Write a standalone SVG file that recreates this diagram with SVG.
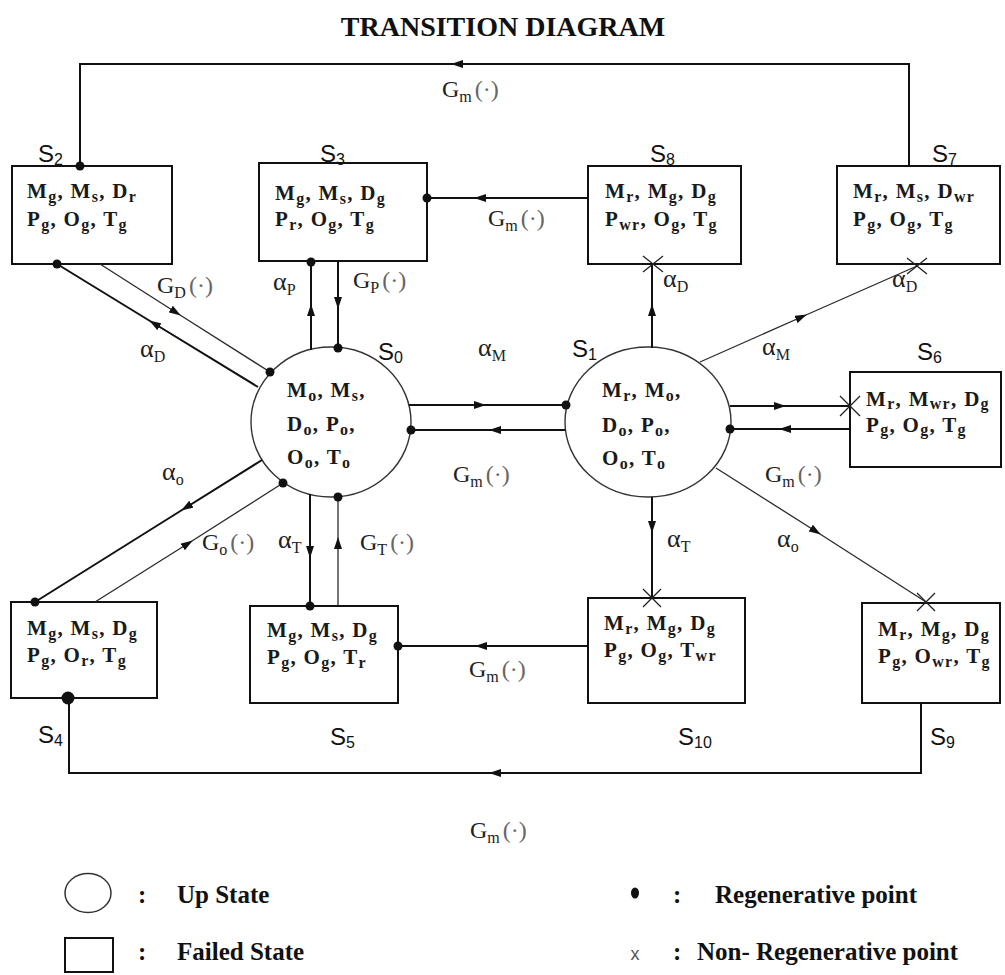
<svg xmlns="http://www.w3.org/2000/svg" width="1005" height="975" viewBox="0 0 1005 975">
<style>
.ln{stroke:#111;stroke-width:2;fill:none}
.tn{stroke:#2a2a2a;stroke-width:1.3;fill:none}
.box{fill:#fff;stroke:#111;stroke-width:2}
.cir{fill:#fff;stroke:#333;stroke-width:1.4}
.st{font-family:"Liberation Serif","Times New Roman",serif;font-weight:bold;font-size:21px;letter-spacing:1.3px;fill:#1a1a1a}
.sb{font-size:16px}
.lab{font-family:"Liberation Sans",Arial,sans-serif;font-size:24px;fill:#111}
.ls{font-size:16px}
.el{font-family:"Liberation Serif","Times New Roman",serif;font-size:24px;fill:#222}
.es{font-size:16px}
.al{font-size:26px}
.pr{fill:#666}
.dot{fill:#111}
.xm{stroke:#222;stroke-width:1.3}
.lg{font-family:"Liberation Serif","Times New Roman",serif;font-weight:bold;font-size:25px;fill:#111}
.tt{font-family:"Liberation Serif","Times New Roman",serif;font-weight:bold;font-size:28px;fill:#111}
</style>
<defs>
<marker id="ah" viewBox="0 0 12 8" refX="11" refY="4" markerWidth="12" markerHeight="8" markerUnits="userSpaceOnUse" orient="auto"><path d="M0,0 L12,4 L0,8 z" fill="#111"/></marker>
</defs>
<rect width="1005" height="975" fill="#fff"/>
<text class="tt" x="503" y="36" text-anchor="middle">TRANSITION DIAGRAM</text>

<g id="S0">
<ellipse class="cir" cx="331" cy="422" rx="80" ry="75"/>
<text class="st" x="287" y="397">M<tspan class="sb" dy="4">o</tspan><tspan dy="-4">, M</tspan><tspan class="sb" dy="4">s</tspan><tspan dy="-4">,</tspan></text>
<text class="st" x="287" y="431">D<tspan class="sb" dy="4">o</tspan><tspan dy="-4">, P</tspan><tspan class="sb" dy="4">o</tspan><tspan dy="-4">,</tspan></text>
<text class="st" x="287" y="464">O<tspan class="sb" dy="4">o</tspan><tspan dy="-4">, T</tspan><tspan class="sb" dy="4">o</tspan></text>
<text class="lab" x="378" y="360">S<tspan class="ls" dy="3">0</tspan></text>
</g>
<g id="S1">
<ellipse class="cir" cx="648" cy="422" rx="83" ry="75"/>
<text class="st" x="602" y="397">M<tspan class="sb" dy="4">r</tspan><tspan dy="-4">, M</tspan><tspan class="sb" dy="4">o</tspan><tspan dy="-4">,</tspan></text>
<text class="st" x="602" y="432">D<tspan class="sb" dy="4">o</tspan><tspan dy="-4">, P</tspan><tspan class="sb" dy="4">o</tspan><tspan dy="-4">,</tspan></text>
<text class="st" x="602" y="465">O<tspan class="sb" dy="4">o</tspan><tspan dy="-4">, T</tspan><tspan class="sb" dy="4">o</tspan></text>
<text class="lab" x="572" y="357">S<tspan class="ls" dy="3">1</tspan></text>
</g>
<g id="S2">
<rect class="box" x="12" y="166" width="160" height="98"/>
<text class="st" x="27" y="198">M<tspan class="sb" dy="4">g</tspan><tspan dy="-4">, M</tspan><tspan class="sb" dy="4">s</tspan><tspan dy="-4">, D</tspan><tspan class="sb" dy="4">r</tspan></text>
<text class="st" x="27" y="226">P<tspan class="sb" dy="4">g</tspan><tspan dy="-4">, O</tspan><tspan class="sb" dy="4">g</tspan><tspan dy="-4">, T</tspan><tspan class="sb" dy="4">g</tspan></text>
<text class="lab" x="38" y="162">S<tspan class="ls" dy="3">2</tspan></text>
</g>
<g id="S3">
<rect class="box" x="259" y="163" width="168" height="98"/>
<text class="st" x="275" y="200">M<tspan class="sb" dy="4">g</tspan><tspan dy="-4">, M</tspan><tspan class="sb" dy="4">s</tspan><tspan dy="-4">, D</tspan><tspan class="sb" dy="4">g</tspan></text>
<text class="st" x="275" y="226">P<tspan class="sb" dy="4">r</tspan><tspan dy="-4">, O</tspan><tspan class="sb" dy="4">g</tspan><tspan dy="-4">, T</tspan><tspan class="sb" dy="4">g</tspan></text>
<text class="lab" x="320" y="162">S<tspan class="ls" dy="3">3</tspan></text>
</g>
<g id="S8">
<rect class="box" x="588" y="166" width="153" height="98"/>
<text class="st" x="605" y="198">M<tspan class="sb" dy="4">r</tspan><tspan dy="-4">, M</tspan><tspan class="sb" dy="4">g</tspan><tspan dy="-4">, D</tspan><tspan class="sb" dy="4">g</tspan></text>
<text class="st" x="605" y="226">P<tspan class="sb" dy="4">wr</tspan><tspan dy="-4">, O</tspan><tspan class="sb" dy="4">g</tspan><tspan dy="-4">, T</tspan><tspan class="sb" dy="4">g</tspan></text>
<text class="lab" x="650" y="162">S<tspan class="ls" dy="3">8</tspan></text>
</g>
<g id="S7">
<rect class="box" x="837" y="166" width="163" height="98"/>
<text class="st" x="853" y="198">M<tspan class="sb" dy="4">r</tspan><tspan dy="-4">, M</tspan><tspan class="sb" dy="4">s</tspan><tspan dy="-4">, D</tspan><tspan class="sb" dy="4">wr</tspan></text>
<text class="st" x="853" y="226">P<tspan class="sb" dy="4">g</tspan><tspan dy="-4">, O</tspan><tspan class="sb" dy="4">g</tspan><tspan dy="-4">, T</tspan><tspan class="sb" dy="4">g</tspan></text>
<text class="lab" x="932" y="162">S<tspan class="ls" dy="3">7</tspan></text>
</g>
<g id="S6">
<rect class="box" x="850" y="372" width="151" height="95"/>
<text class="st" x="866" y="406" letter-spacing="0.6">M<tspan class="sb" dy="3">r</tspan><tspan dy="-3">, M</tspan><tspan class="sb" dy="3">wr</tspan><tspan dy="-3">, D</tspan><tspan class="sb" dy="3">g</tspan></text>
<text class="st" x="866" y="432" letter-spacing="0.6">P<tspan class="sb" dy="3">g</tspan><tspan dy="-3">, O</tspan><tspan class="sb" dy="3">g</tspan><tspan dy="-3">, T</tspan><tspan class="sb" dy="3">g</tspan></text>
<text class="lab" x="917" y="360">S<tspan class="ls" dy="3">6</tspan></text>
</g>
<g id="S4">
<rect class="box" x="11" y="602" width="146" height="96"/>
<text class="st" x="27" y="635">M<tspan class="sb" dy="4">g</tspan><tspan dy="-4">, M</tspan><tspan class="sb" dy="4">s</tspan><tspan dy="-4">, D</tspan><tspan class="sb" dy="4">g</tspan></text>
<text class="st" x="27" y="662">P<tspan class="sb" dy="4">g</tspan><tspan dy="-4">, O</tspan><tspan class="sb" dy="4">r</tspan><tspan dy="-4">, T</tspan><tspan class="sb" dy="4">g</tspan></text>
<text class="lab" x="38" y="743">S<tspan class="ls" dy="3">4</tspan></text>
</g>
<g id="S5">
<rect class="box" x="250" y="606" width="148" height="97"/>
<text class="st" x="267" y="637">M<tspan class="sb" dy="4">g</tspan><tspan dy="-4">, M</tspan><tspan class="sb" dy="4">s</tspan><tspan dy="-4">, D</tspan><tspan class="sb" dy="4">g</tspan></text>
<text class="st" x="267" y="664">P<tspan class="sb" dy="4">g</tspan><tspan dy="-4">, O</tspan><tspan class="sb" dy="4">g</tspan><tspan dy="-4">, T</tspan><tspan class="sb" dy="4">r</tspan></text>
<text class="lab" x="330" y="745">S<tspan class="ls" dy="3">5</tspan></text>
</g>
<g id="S10">
<rect class="box" x="588" y="598" width="157" height="105"/>
<text class="st" x="604" y="630">M<tspan class="sb" dy="4">r</tspan><tspan dy="-4">, M</tspan><tspan class="sb" dy="4">g</tspan><tspan dy="-4">, D</tspan><tspan class="sb" dy="4">g</tspan></text>
<text class="st" x="604" y="657">P<tspan class="sb" dy="4">g</tspan><tspan dy="-4">, O</tspan><tspan class="sb" dy="4">g</tspan><tspan dy="-4">, T</tspan><tspan class="sb" dy="4">wr</tspan></text>
<text class="lab" x="678" y="745">S<tspan class="ls" dy="3">10</tspan></text>
</g>
<g id="S9">
<rect class="box" x="862" y="603" width="138" height="100"/>
<text class="st" x="878" y="636">M<tspan class="sb" dy="4">r</tspan><tspan dy="-4">, M</tspan><tspan class="sb" dy="4">g</tspan><tspan dy="-4">, D</tspan><tspan class="sb" dy="4">g</tspan></text>
<text class="st" x="878" y="663">P<tspan class="sb" dy="4">g</tspan><tspan dy="-4">, O</tspan><tspan class="sb" dy="4">wr</tspan><tspan dy="-4">, T</tspan><tspan class="sb" dy="4">g</tspan></text>
<text class="lab" x="930" y="745">S<tspan class="ls" dy="3">9</tspan></text>
</g>

<g id="connectors">
<path class="ln" d="M909,166 L909,64 L80,64 L80,166"/>
<path class="ln" d="M464,64 L452,64" marker-end="url(#ah)"/>
<path class="ln" d="M921,703 L921,773 L69,773 L69,698"/>
<path class="ln" d="M502,773 L490,773" marker-end="url(#ah)"/>
<path class="ln" d="M258,387 L150,321 L57,264" marker-mid="url(#ah)"/>
<path class="tn" d="M100,264 L180,315 L270,372" marker-mid="url(#ah)"/>
<path class="ln" d="M311,350 L311,305 L311,262" marker-mid="url(#ah)"/>
<path class="ln" d="M338,262 L338,308 L338,348" marker-mid="url(#ah)"/>
<path class="ln" d="M588,198 L475,198 L427,198" marker-mid="url(#ah)"/>
<path class="ln" d="M409,405 L485,405 L566,405" marker-mid="url(#ah)"/>
<path class="ln" d="M565,430 L490,430 L411,430" marker-mid="url(#ah)"/>
<path class="ln" d="M652,348 L652,305 L652,264" marker-mid="url(#ah)"/>
<path class="tn" d="M700,362 L806,315 L917,266" marker-mid="url(#ah)"/>
<path class="ln" d="M730,406 L785,406 L850,406" marker-mid="url(#ah)"/>
<path class="ln" d="M850,429 L780,429 L730,429" marker-mid="url(#ah)"/>
<path class="tn" d="M716,468 L820,534 L926,602" marker-mid="url(#ah)"/>
<path class="ln" d="M652,497 L652,532 L652,598" marker-mid="url(#ah)"/>
<path class="ln" d="M588,646 L476,646 L398,646" marker-mid="url(#ah)"/>
<path class="ln" d="M262,460 L182,510 L35,602" marker-mid="url(#ah)"/>
<path class="tn" d="M95,602 L192,541 L283,483" marker-mid="url(#ah)"/>
<path class="ln" d="M310,494 L310,557 L310,606" marker-mid="url(#ah)"/>
<path class="tn" d="M338,606 L338,538 L338,497" marker-mid="url(#ah)"/>
<g class="xm">
<path d="M643,256 L663,272 M643,272 L663,256"/>
<path d="M907,258 L927,274 M907,274 L927,258"/>
<path d="M840,396 L860,416 M840,416 L860,396"/>
<path d="M643,589 L661,607 M643,607 L661,589"/>
<path d="M917,593 L935,611 M917,611 L935,593"/>
</g>
<g class="dot">
<circle cx="80" cy="166" r="4.5"/>
<circle cx="57" cy="264" r="4.5"/>
<circle cx="270" cy="372" r="4.5"/>
<circle cx="311" cy="262" r="4.5"/>
<circle cx="427" cy="198" r="4.5"/>
<circle cx="338" cy="348" r="4.5"/>
<circle cx="411" cy="430" r="4.5"/>
<circle cx="566" cy="405" r="4.5"/>
<circle cx="730" cy="429" r="4.5"/>
<circle cx="35" cy="602" r="4.5"/>
<circle cx="283" cy="483" r="4.5"/>
<circle cx="338" cy="497" r="4.5"/>
<circle cx="310" cy="606" r="4.5"/>
<circle cx="398" cy="646" r="4.5"/>
<circle cx="68" cy="698" r="6.5"/>
</g>
<g id="edge-labels">
<text class="el" x="442" y="97">G<tspan class="es" dy="5">m</tspan><tspan class="pr" dy="-5" dx="3">(·)</tspan></text>
<text class="el" x="157" y="293">G<tspan class="es" dy="5">D</tspan><tspan class="pr" dy="-5" dx="3">(·)</tspan></text>
<text class="el" x="140" y="357"><tspan class="al">α</tspan><tspan class="es" dy="5">D</tspan></text>
<text class="el" x="273" y="290"><tspan class="al">α</tspan><tspan class="es" dy="5">P</tspan></text>
<text class="el" x="353" y="288">G<tspan class="es" dy="5">P</tspan><tspan class="pr" dy="-5" dx="3">(·)</tspan></text>
<text class="el" x="488" y="226">G<tspan class="es" dy="5">m</tspan><tspan class="pr" dy="-5" dx="3">(·)</tspan></text>
<text class="el" x="663" y="287"><tspan class="al">α</tspan><tspan class="es" dy="5">D</tspan></text>
<text class="el" x="892" y="287"><tspan class="al">α</tspan><tspan class="es" dy="5">D</tspan></text>
<text class="el" x="478" y="356"><tspan class="al">α</tspan><tspan class="es" dy="5">M</tspan></text>
<text class="el" x="762" y="355"><tspan class="al">α</tspan><tspan class="es" dy="5">M</tspan></text>
<text class="el" x="453" y="482">G<tspan class="es" dy="5">m</tspan><tspan class="pr" dy="-5" dx="3">(·)</tspan></text>
<text class="el" x="765" y="482">G<tspan class="es" dy="5">m</tspan><tspan class="pr" dy="-5" dx="3">(·)</tspan></text>
<text class="el" x="162" y="480"><tspan class="al">α</tspan><tspan class="es" dy="5">o</tspan></text>
<text class="el" x="202" y="550">G<tspan class="es" dy="5">o</tspan><tspan class="pr" dy="-5" dx="3">(·)</tspan></text>
<text class="el" x="278" y="548"><tspan class="al">α</tspan><tspan class="es" dy="5">T</tspan></text>
<text class="el" x="360" y="550">G<tspan class="es" dy="5">T</tspan><tspan class="pr" dy="-5" dx="3">(·)</tspan></text>
<text class="el" x="667" y="547"><tspan class="al">α</tspan><tspan class="es" dy="5">T</tspan></text>
<text class="el" x="777" y="547"><tspan class="al">α</tspan><tspan class="es" dy="5">o</tspan></text>
<text class="el" x="469" y="677">G<tspan class="es" dy="5">m</tspan><tspan class="pr" dy="-5" dx="3">(·)</tspan></text>
<text class="el" x="470" y="838">G<tspan class="es" dy="5">m</tspan><tspan class="pr" dy="-5" dx="3">(·)</tspan></text>
</g>
</g>

<g id="legend">
<ellipse cx="88" cy="893" rx="23" ry="19.5" fill="none" stroke="#333" stroke-width="1.5"/>
<text class="lg" x="138" y="903">:</text>
<text class="lg" x="177" y="903">Up State</text>
<rect x="65" y="938" width="48" height="34" fill="none" stroke="#111" stroke-width="2"/>
<text class="lg" x="138" y="960">:</text>
<text class="lg" x="177" y="960">Failed State</text>
<ellipse cx="635" cy="893" rx="4" ry="5.5" fill="#111"/>
<text class="lg" x="673" y="903">:</text>
<text class="lg" x="715" y="903">Regenerative point</text>
<text x="635" y="960" text-anchor="middle" font-family="Liberation Sans, Arial, sans-serif" font-size="18" fill="#555">x</text>
<text class="lg" x="673" y="960">:</text>
<text class="lg" x="697" y="960">Non- Regenerative point</text>
</g>
</svg>
